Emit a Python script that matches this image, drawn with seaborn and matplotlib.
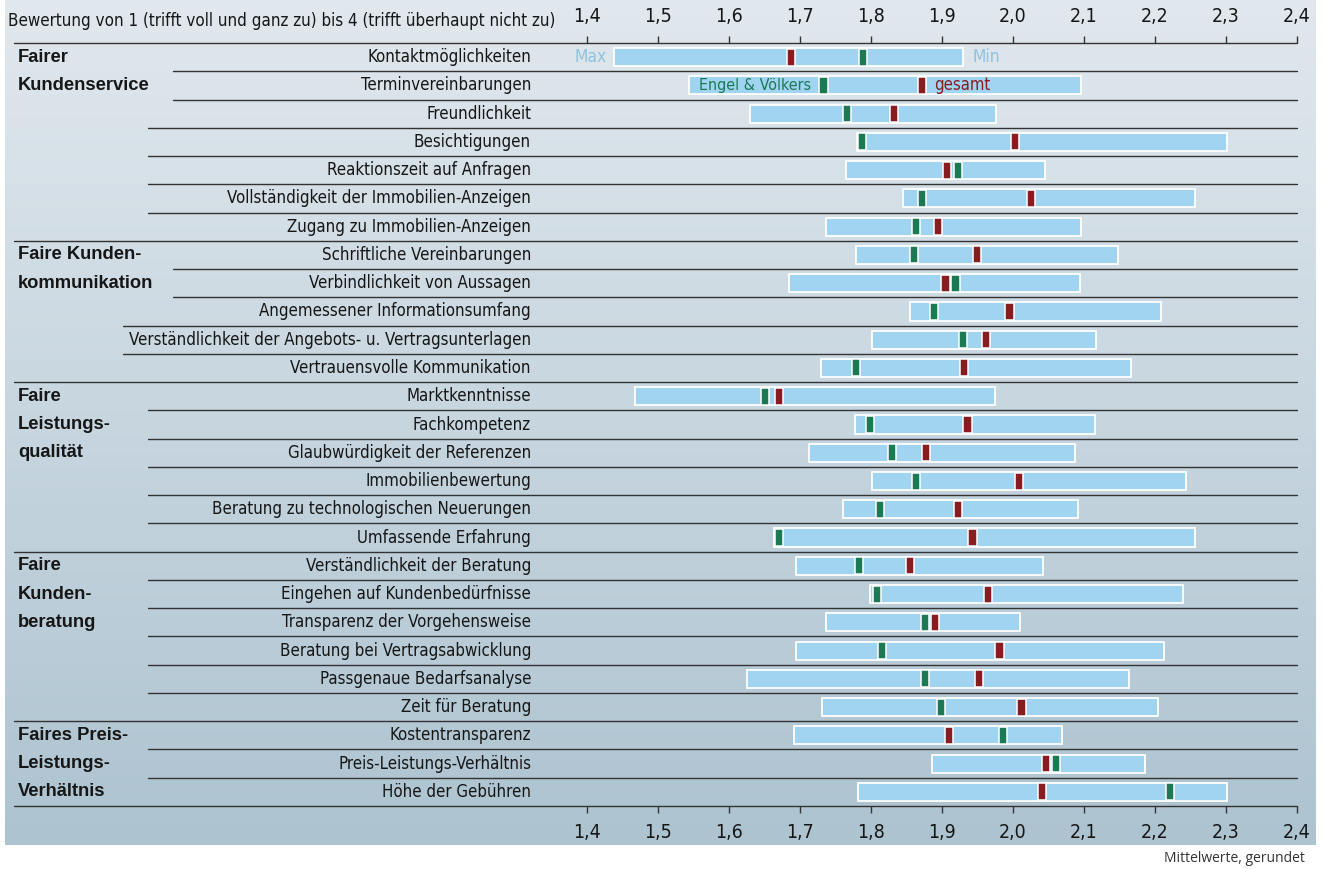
import matplotlib
matplotlib.use("Agg")
import matplotlib.pyplot as plt
import matplotlib.transforms as mtransforms
from matplotlib import font_manager
import seaborn as sns
import numpy as np
import pandas as pd

# --- Daten (Mittelwerte) ---
kriterien = [
    "Kontaktmöglichkeiten", "Terminvereinbarungen", "Freundlichkeit", "Besichtigungen",
    "Reaktionszeit auf Anfragen", "Vollständigkeit der Immobilien-Anzeigen",
    "Zugang zu Immobilien-Anzeigen",
    "Schriftliche Vereinbarungen", "Verbindlichkeit von Aussagen",
    "Angemessener Informationsumfang",
    "Verständlichkeit der Angebots- u. Vertragsunterlagen",
    "Vertrauensvolle Kommunikation",
    "Marktkenntnisse", "Fachkompetenz", "Glaubwürdigkeit der Referenzen",
    "Immobilienbewertung", "Beratung zu technologischen Neuerungen", "Umfassende Erfahrung",
    "Verständlichkeit der Beratung", "Eingehen auf Kundenbedürfnisse",
    "Transparenz der Vorgehensweise", "Beratung bei Vertragsabwicklung",
    "Passgenaue Bedarfsanalyse", "Zeit für Beratung",
    "Kostentransparenz", "Preis-Leistungs-Verhältnis", "Höhe der Gebühren",
]
gruppen = ["Fairer\nKundenservice", "Faire Kunden-\nkommunikation", "Faire\nLeistungs-\nqualität",
           "Faire\nKunden-\nberatung", "Faires Preis-\nLeistungs-\nVerhältnis"]
gruppen_anzahl = [7, 5, 6, 6, 3]

# bester Wert ("Max") und schlechtester Wert ("Min") je Kriterium
wert_bester = [1.438, 1.543, 1.629, 1.780, 1.765, 1.845, 1.737,
               1.779, 1.684, 1.855, 1.802, 1.730,
               1.467, 1.777, 1.712, 1.801, 1.761, 1.663,
               1.694, 1.798, 1.736, 1.694, 1.625, 1.731,
               1.692, 1.886, 1.781]
wert_schlechtester = [1.930, 2.096, 1.976, 2.301, 2.045, 2.257, 2.096,
                      2.148, 2.094, 2.209, 2.117, 2.166,
                      1.974, 2.116, 2.087, 2.244, 2.091, 2.257,
                      2.042, 2.240, 2.010, 2.213, 2.163, 2.204,
                      2.069, 2.186, 2.301]
engel_voelkers = [1.789, 1.733, 1.766, 1.787, 1.923, 1.872, 1.863,
                  1.860, 1.919, 1.889, 1.930, 1.779,
                  1.651, 1.799, 1.830, 1.863, 1.813, 1.671,
                  1.783, 1.809, 1.876, 1.816, 1.876, 1.899,
                  1.986, 2.060, 2.221]
gesamt = [1.687, 1.872, 1.832, 2.003, 1.907, 2.025, 1.894,
          1.949, 1.905, 1.995, 1.962, 1.931,
          1.671, 1.936, 1.878, 2.009, 1.923, 1.943,
          1.855, 1.965, 1.890, 1.981, 1.952, 2.012,
          1.910, 2.047, 2.041]

ticks = [1.4, 1.5, 1.6, 1.7, 1.8, 1.9, 2.0, 2.1, 2.2, 2.3, 2.4]
tick_labels = ["1,4", "1,5", "1,6", "1,7", "1,8", "1,9", "2,0", "2,1", "2,2", "2,3", "2,4"]

# --- Farben / Layout ---
HELLBLAU = "#a0d4f1"
MAX_BLAU = "#8fc3e0"
GRUEN = "#1b7a54"
ROT = "#871c21"
LINIE = "#333333"
TEXT = "#161616"
W, H = 1324, 869

sns.set_theme(style="white")
verfuegbar = {f.name for f in font_manager.fontManager.ttflist}
if "Liberation Sans Narrow" in verfuegbar:
    SCHMAL = dict(family="Liberation Sans Narrow")
else:
    SCHMAL = dict(family="DejaVu Sans", stretch="condensed")
plt.rcParams["font.family"] = ["Liberation Sans", "DejaVu Sans"]

fig = plt.figure(figsize=(W / 100, H / 100), dpi=100)

# Hintergrund mit Verlauf
bg = fig.add_axes([0, 0, 1, 1], zorder=-5)
oben = np.array([0.882, 0.910, 0.933])
unten = np.array([0.678, 0.765, 0.816])
t = np.linspace(0, 1, 256)[:, None, None]
verlauf = oben * (1 - t) + unten * t
bg.imshow(verlauf, extent=[5, 1316, 845, 0], aspect="auto", interpolation="bicubic")
bg.set_xlim(0, W)
bg.set_ylim(H, 0)
bg.axis("off")

ax = fig.add_axes([587 / W, 1 - 806 / H, 710 / W, 763 / H])
ax.patch.set_alpha(0)

pos = np.arange(len(kriterien))
breite = np.array(wert_schlechtester) - np.array(wert_bester)
ax.barh(pos, breite, left=wert_bester, height=0.64, color=HELLBLAU,
        edgecolor="white", linewidth=1.3, zorder=2)

df = pd.DataFrame({"kriterium": kriterien, "pos": pos,
                   "gesamt": gesamt, "Engel & Völkers": engel_voelkers})
lang = df.melt(id_vars=["kriterium", "pos"], value_vars=["gesamt", "Engel & Völkers"],
               var_name="serie", value_name="wert")
rechteck = [(-0.48, -1), (0.48, -1), (0.48, 1), (-0.48, 1), (-0.48, -1)]
sns.scatterplot(data=lang, x="wert", y="pos", hue="serie",
                palette={"gesamt": ROT, "Engel & Völkers": GRUEN},
                marker=rechteck, s=150, edgecolor="white", linewidth=1.1,
                legend=False, ax=ax, zorder=3)

# Trennlinien (Startpunkt links in Pixeln)
linien_start = [14, 173, 173, 148, 148, 148, 148, 14,
                173, 173, 123, 123, 14,
                148, 148, 148, 148, 148, 14,
                148, 148, 148, 148, 148, 14,
                148, 148, 14]
trans = mtransforms.blended_transform_factory(fig.transFigure, ax.transData)
for y, start in zip(np.arange(-0.5, len(kriterien) + 0.5, 1), linien_start):
    ax.plot([start / W, 1297 / W], [y, y], transform=trans, color=LINIE,
            lw=1.0, clip_on=False, zorder=1)

# Beschriftungen
for p, name in zip(pos, kriterien):
    ax.text(531 / W, p, name, transform=trans, ha="right", va="center",
            fontsize=12.1, color=TEXT, **SCHMAL)

zeile = 0
for name, n in zip(gruppen, gruppen_anzahl):
    for k, teil in enumerate(name.split("\n")):
        ax.text(18 / W, zeile + k, teil, transform=trans, ha="left", va="center",
                fontsize=13.2, fontweight="bold", color=TEXT)
    zeile += n

ax.annotate("Max", xy=(wert_bester[0], 0), xytext=(-5.5, 0), textcoords="offset points",
            ha="right", va="center", color=MAX_BLAU, fontsize=12.5, **SCHMAL)
ax.annotate("Min", xy=(wert_schlechtester[0], 0), xytext=(6.5, 0), textcoords="offset points",
            ha="left", va="center", color=MAX_BLAU, fontsize=12.5, **SCHMAL)
ax.annotate("Engel & Völkers", xy=(engel_voelkers[1], 1), xytext=(-9, 0),
            textcoords="offset points", ha="right", va="center", color=GRUEN,
            fontsize=11.5, **SCHMAL)
ax.annotate("gesamt", xy=(gesamt[1], 1), xytext=(8.5, 0), textcoords="offset points",
            ha="left", va="center", color=ROT, fontsize=12, **SCHMAL)

fig.text(8 / W, 1 - 21 / H,
         "Bewertung von 1 (trifft voll und ganz zu) bis 4 (trifft überhaupt nicht zu)",
         ha="left", va="center", fontsize=12.2, color=TEXT, **SCHMAL)
fig.text(1305 / W, 1 - 858 / H, "Mittelwerte, gerundet", ha="right", va="center",
         fontsize=10, color="#333333", family="Open Sans")

# Achsen
ax.set_xlim(1.4, 2.4)
ax.set_ylim(len(kriterien) - 0.5, -0.5)
ax.set_xticks(ticks, tick_labels)
ax.set_yticks([])
ax.set_xlabel("")
ax.set_ylabel("")
for s in ax.spines.values():
    s.set_visible(False)
ax.tick_params(axis="x", top=True, bottom=True, labeltop=True, labelbottom=True,
               direction="out", length=5, width=1, color=LINIE, pad=7,
               labelsize=14, labelcolor=TEXT)
fp = font_manager.FontProperties(size=14, **SCHMAL)
for tk in ax.xaxis.get_major_ticks():
    tk.label1.set_fontproperties(fp)
    tk.label2.set_fontproperties(fp)

fig.savefig("out.png", dpi=100, facecolor="white")
